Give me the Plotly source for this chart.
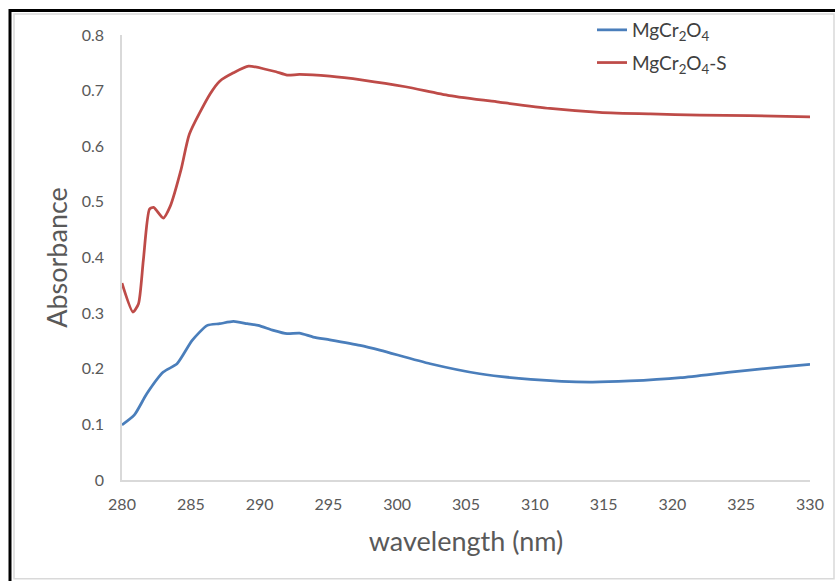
import plotly.graph_objects as go

# ---- data ----
wl_mgcr2o4 = [280.0, 280.9, 281.8, 283.0, 284.0, 285.1, 286.2, 287.1, 288.1, 289.1, 289.9,
              291.0, 292.0, 292.9, 293.9, 295.1, 297.3, 298.8, 302.4, 306.0, 309.7,
              314.0, 316.9, 320.6, 324.2, 327.8, 330.0]
abs_mgcr2o4 = [0.099, 0.117, 0.155, 0.194, 0.209, 0.251, 0.278, 0.281, 0.285, 0.281, 0.278,
               0.269, 0.263, 0.264, 0.257, 0.252, 0.242, 0.233, 0.209, 0.191, 0.181,
               0.176, 0.178, 0.184, 0.194, 0.203, 0.208]

wl_mgcr2o4_s = [280.0, 280.8, 281.2, 281.55, 282.0, 282.3, 283.0, 283.5, 284.3, 284.9, 286.4,
                287.1, 288.1, 289.2, 290.5, 291.2, 292.0, 292.9, 295.1, 297.5, 300.6,
                303.8, 307.5, 311.1, 314.7, 318.4, 322.0, 325.6, 330.0]
abs_mgcr2o4_s = [0.354, 0.302, 0.317, 0.395, 0.487, 0.490, 0.471, 0.492, 0.559, 0.622, 0.694,
                 0.717, 0.732, 0.744, 0.738, 0.734, 0.728, 0.729, 0.726, 0.719, 0.707,
                 0.691, 0.679, 0.668, 0.661, 0.658, 0.656, 0.655, 0.653]

x_ticks = [280, 285, 290, 295, 300, 305, 310, 315, 320, 325, 330]
y_ticks = [0, 0.1, 0.2, 0.3, 0.4, 0.5, 0.6, 0.7, 0.8]
y_tick_text = ["0", "0.1", "0.2", "0.3", "0.4", "0.5", "0.6", "0.7", "0.8"]

W, H = 835, 581
L, R, T, B = 122, 25, 34, 101
PW, PH = W - L - R, H - T - B

def px(x):
    return (x - L) / PW

def py(y):
    return (H - B - y) / PH

FONT = "Lato, Open Sans, sans-serif"
TXT = "#595959"

fig = go.Figure()
fig.add_trace(go.Scatter(x=wl_mgcr2o4, y=abs_mgcr2o4, mode="lines",
                         name="MgCr<sub>2</sub>O<sub>4</sub>", legendgroup="a",
                         line=dict(color="#4A7EBB", width=2.75, shape="spline", smoothing=0.6)))
fig.add_trace(go.Scatter(x=wl_mgcr2o4_s, y=abs_mgcr2o4_s, mode="lines",
                         name="MgCr<sub>2</sub>O<sub>4</sub>-S", legendgroup="b",
                         line=dict(color="#BE4B48", width=2.75, shape="spline", smoothing=0.6)))

shapes = [
    # light grey chart-area border
    dict(type="rect", xref="paper", yref="paper", x0=px(14), x1=px(834), y0=py(579), y1=py(13),
         line=dict(color="#D9D9D9", width=1.5), layer="below"),
    # black frame (top and left)
    dict(type="line", xref="paper", yref="paper", x0=px(9), x1=px(836), y0=py(9.5), y1=py(9.5),
         line=dict(color="black", width=3)),
    dict(type="line", xref="paper", yref="paper", x0=px(10), x1=px(10), y0=py(8), y1=py(582),
         line=dict(color="black", width=3)),
]

fig.update_layout(
    width=W, height=H,
    margin=dict(l=L, r=R, t=T, b=B),
    paper_bgcolor="white", plot_bgcolor="white",
    font=dict(family=FONT, color=TXT, size=16),
    shapes=shapes,
    showlegend=True,
    legend=dict(x=px(592), y=py(11), xanchor="left", yanchor="top",
                font=dict(size=19, color="#404040", family=FONT),
                tracegroupgap=5, bgcolor="rgba(0,0,0,0)"),
    xaxis=dict(range=[280, 330], tickvals=x_ticks, ticks="", showgrid=False, zeroline=False,
               showline=True, linecolor="#D9D9D9", linewidth=1.5,
               tickfont=dict(size=16, color=TXT), ticklabelstandoff=9,
               title=dict(text="wavelength (nm)", font=dict(size=27, color=TXT), standoff=20)),
    yaxis=dict(range=[0, 0.8], tickvals=y_ticks, ticktext=y_tick_text, ticks="",
               showgrid=False, zeroline=False, showline=True, linecolor="#D9D9D9", linewidth=1.5,
               tickfont=dict(size=16, color=TXT), ticklabelstandoff=13,
               title=dict(text="Absorbance", font=dict(size=27, color=TXT), standoff=6)),
)

fig.write_html("out.html")
